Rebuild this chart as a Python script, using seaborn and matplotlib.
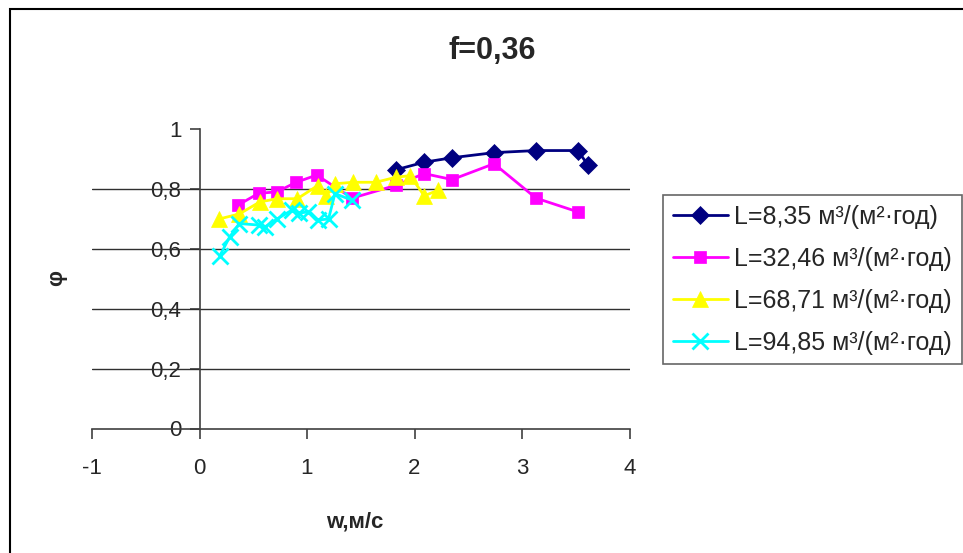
import matplotlib
matplotlib.use("Agg")
import matplotlib.pyplot as plt
import matplotlib.patches as mpatches
from matplotlib.ticker import FuncFormatter, FixedLocator
import seaborn as sns
import pandas as pd

# ---- data ----
title = "f=0,36"
x_label = "w,м/с"
y_label = "φ"

labels = ["L=8,35 м³/(м²·год)", "L=32,46 м³/(м²·год)",
          "L=68,71 м³/(м²·год)", "L=94,85 м³/(м²·год)"]

x_L1 = [1.83, 2.09, 2.35, 2.74, 3.13, 3.52, 3.61]
y_L1 = [0.865, 0.890, 0.905, 0.922, 0.929, 0.929, 0.882]

x_L2 = [0.36, 0.55, 0.72, 0.90, 1.09, 1.42, 1.83, 2.09, 2.35, 2.74, 3.13, 3.52]
y_L2 = [0.747, 0.786, 0.791, 0.823, 0.847, 0.770, 0.813, 0.852, 0.832, 0.885, 0.770, 0.724]

x_L3 = [0.18, 0.37, 0.56, 0.72, 0.91, 1.10, 1.18, 1.26, 1.43, 1.64, 1.83, 1.96, 2.09, 2.22]
y_L3 = [0.700, 0.717, 0.757, 0.768, 0.768, 0.812, 0.778, 0.818, 0.823, 0.823, 0.840, 0.845, 0.778, 0.796]

x_L4 = [0.19, 0.28, 0.37, 0.55, 0.61, 0.72, 0.86, 0.93, 1.01, 1.10, 1.20, 1.26, 1.42]
y_L4 = [0.578, 0.640, 0.685, 0.680, 0.674, 0.700, 0.730, 0.720, 0.724, 0.697, 0.700, 0.785, 0.763]

x_ticks = [-1, 0, 1, 2, 3, 4]
y_ticks = [0, 0.2, 0.4, 0.6, 0.8, 1]

# ---- style ----
sns.set_style("white")
plt.rcParams["font.family"] = ["Liberation Sans", "DejaVu Sans"]
plt.rcParams["axes.unicode_minus"] = False

W, H = 963, 553
fig = plt.figure(figsize=(W / 100, H / 100), dpi=100)
fig.patch.set_facecolor("white")

def fx(px):
    return px / W

def fy(py):
    return 1 - py / H

ax = fig.add_axes([fx(92), fy(428.5), fx(629.5) - fx(92), fy(129.3) - fy(428.5)])
ax.set_facecolor("white")

series = [
    (x_L1, y_L1, "#000080", "D", 9, 1),
    (x_L2, y_L2, "#FF00FF", "s", 9, 2),
    (x_L3, y_L3, "#FFFF00", "^", 11, 3),
    (x_L4, y_L4, "#00FFFF", "x", 11, 4),
]

for (xs, ys, col, mk, ms, z), lab in zip(series, labels):
    df = pd.DataFrame({"x": xs, "y": ys})
    kw = dict(marker=mk, markersize=ms, markerfacecolor=col, markeredgecolor=col)
    if mk == "x":
        kw["markeredgewidth"] = 2
    else:
        kw["markeredgewidth"] = 0.5
    sns.lineplot(data=df, x="x", y="y", ax=ax, color=col, linewidth=2,
                 sort=False, estimator=None, label=lab, zorder=3 + z, **kw)

ax.set_xlim(-1, 4)
ax.set_ylim(0, 1)
ax.xaxis.set_major_locator(FixedLocator(x_ticks))
ax.yaxis.set_major_locator(FixedLocator(y_ticks))

def fmt(v, pos):
    s = ("%g" % v).replace(".", ",")
    return s

ax.xaxis.set_major_formatter(FuncFormatter(fmt))
ax.yaxis.set_major_formatter(FuncFormatter(fmt))

for sp in ["top", "right"]:
    ax.spines[sp].set_visible(False)
ax.spines["left"].set_position(("data", 0))
ax.spines["left"].set_color("#404040")
ax.spines["bottom"].set_color("#404040")
ax.spines["left"].set_linewidth(1.2)
ax.spines["bottom"].set_linewidth(1.2)
ax.spines["left"].set_zorder(2)
ax.spines["bottom"].set_zorder(2)

# horizontal gridlines (not at 0 or 1)
for gy in y_ticks[1:-1]:
    ax.axhline(gy, color="#303030", linewidth=1.0, zorder=1)

ax.tick_params(axis="y", direction="out", length=7, width=1.2, color="#404040",
               labelsize=16, pad=6, left=True)
ax.tick_params(axis="x", direction="out", length=7, width=1.2, color="#404040",
               labelsize=16, pad=14, bottom=True)
ax.set_xlabel("")
ax.set_ylabel("")

# title and axis labels
fig.text(fx(492), fy(59), title, ha="center", va="baseline",
         fontsize=22, fontweight="bold")
fig.text(fx(355), fy(522), x_label, ha="center", va="center",
         fontsize=16, fontweight="bold")
fig.text(fx(57), fy(278), y_label, ha="center", va="center",
         fontsize=16, fontweight="bold", rotation=90)

# legend
ax.get_legend().remove()
handles, labs = ax.get_legend_handles_labels()
leg = fig.legend(handles, labs, loc="upper left",
                 bbox_to_anchor=(fx(663), fy(195)), bbox_transform=fig.transFigure,
                 fontsize=18, frameon=True, fancybox=False, shadow=False,
                 borderpad=0.38, handlelength=2.2, handletextpad=0.28,
                 labelspacing=0.72, borderaxespad=0)
leg.get_frame().set_edgecolor("#404040")
leg.get_frame().set_linewidth(1.2)

# outer chart border (left and top visible)
fig.patches.append(mpatches.Rectangle((fx(10), -0.1), 1.2, fy(9) + 0.1,
                                      transform=fig.transFigure, fill=False,
                                      edgecolor="black", linewidth=1.5))

fig.savefig("out.png", dpi=100)
